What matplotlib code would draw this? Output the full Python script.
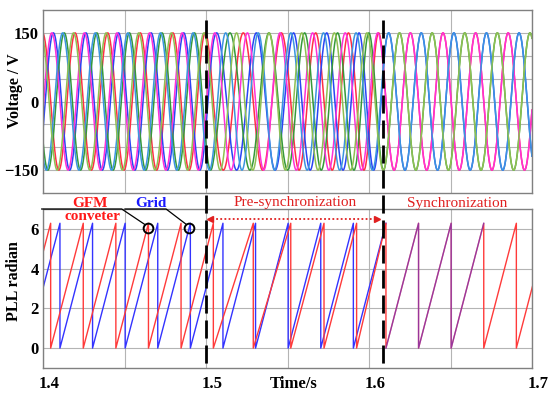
import numpy as np
import matplotlib
matplotlib.use('Agg')
import matplotlib.pyplot as plt
from matplotlib.transforms import blended_transform_factory, ScaledTranslation

plt.rcParams['font.family'] = ['Liberation Serif', 'DejaVu Serif']

# ---------------- data ----------------
# times at which each PLL phase wraps from 2*pi back to 0
conv_wraps = [1.3847, 1.4047, 1.4247, 1.4447, 1.4647, 1.4847, 1.5045, 1.5290,
              1.5520, 1.5724, 1.5924, 1.6104, 1.6304, 1.6504, 1.6704, 1.6904, 1.7104]
grid_wraps = [1.3904, 1.4104, 1.4304, 1.4504, 1.4704, 1.4904, 1.5104, 1.5304,
              1.5504, 1.5704, 1.5904, 1.6104, 1.6304, 1.6504, 1.6704, 1.6904, 1.7104]
grid_pll_end = 1.6704
amplitude = 150.0
volt_ticks = [-150, -100, -50, 0, 50, 100, 150]
volt_ticklabels = ['\u2212150', '', '', '0', '', '', '150']
pll_ticks = [0, 2, 4, 6]
time_ticks = [1.4, 1.45, 1.5, 1.55, 1.6, 1.65, 1.7]
time_ticklabels = ['1.4', '', '1.5', '', '1.6', '', '1.7']
event_times = [1.5, 1.6088]

conv_colors = ['#ff2f45', '#2a44f5', '#36993a']
grid_colors = ['#ff30d8', '#3b95df', '#8fc052']
pll_red = '#ff3a3a'
pll_blue = '#3333ff'


def phase(tt, wraps):
    k = np.arange(len(wraps))
    return np.interp(tt, wraps, 2 * np.pi * k)


def sawtooth(wraps):
    xs, ys = [], []
    for a, b in zip(wraps[:-1], wraps[1:]):
        xs += [a, b]
        ys += [0.0, 2 * np.pi]
    return np.array(xs), np.array(ys)


t = np.linspace(1.4, 1.7, 5000)
th_c = phase(t, conv_wraps)
th_g = phase(t, grid_wraps)

fig = plt.figure(figsize=(5.5, 3.98), dpi=100)
L, R = 43 / 550, 532 / 550
ax1 = fig.add_axes([L, 1 - 193 / 398, R - L, (193 - 10) / 398])
ax2 = fig.add_axes([L, 1 - 368 / 398, R - L, (368 - 209) / 398])

frame_c = '#808080'
grid_c = '#b4b4b4'
for ax in (ax1, ax2):
    for s in ax.spines.values():
        s.set_color(frame_c)
        s.set_linewidth(1.0)
    ax.grid(True, color=grid_c, lw=0.8)
    ax.set_axisbelow(True)
    ax.set_xlim(1.4, 1.7)
    ax.set_xticks(time_ticks)
    ax.tick_params(length=0, labelsize=12, pad=3)

# ---------------- voltage panel ----------------
for i in range(3):
    ax1.plot(t, amplitude * np.sin(th_c - np.pi - i * 2 * np.pi / 3),
             color=conv_colors[i], lw=1.1)
for i in range(3):
    ax1.plot(t, amplitude * np.sin(th_g - np.pi - i * 2 * np.pi / 3),
             color=grid_colors[i], lw=1.1)
ax1.set_ylim(-200, 200)
ax1.set_yticks(volt_ticks)
ax1.set_yticklabels(volt_ticklabels, fontweight='bold', fontsize=12)
ax1.set_xticklabels([])
ax1.set_ylabel('Voltage / V', fontweight='bold', fontsize=11.5)
ax1.yaxis.set_label_coords(-0.041, 0.557)

# ---------------- PLL panel ----------------
gx, gy = sawtooth(grid_wraps[:12])
ax2.plot(gx, gy, color=pll_blue, lw=1.0)
cx, cy = sawtooth(conv_wraps)
ax2.plot(cx, cy, color=pll_red, lw=1.0)
sync_w = [w for w in grid_wraps if 1.6104 <= w <= grid_pll_end]
sx, sy = sawtooth(sync_w)
ax2.plot(sx, sy, color=pll_blue, lw=1.0, alpha=0.5)

ax2.set_ylim(-1, 7)
ax2.set_yticks(pll_ticks)
ax2.set_yticklabels([str(v) for v in pll_ticks], fontweight='bold', fontsize=12)
ax2.set_xticklabels(time_ticklabels, fontweight='bold', fontsize=12)
ax2.tick_params(axis='x', pad=6)
off = ScaledTranslation(6 / 100, 0, fig.dpi_scale_trans)
for lab in ax2.get_xticklabels():
    lab.set_transform(lab.get_transform() + off)
ax2.set_ylabel('PLL radian', fontweight='bold', fontsize=11.5)
ax2.yaxis.set_label_coords(-0.042, 0.547)
ax2.text(1.5535, -8.3 / 159, 'Time/s',
         transform=blended_transform_factory(ax2.transData, ax2.transAxes),
         ha='center', va='top', fontweight='bold', fontsize=12)

# event dashed lines crossing both panels
bt = blended_transform_factory(ax2.transData, fig.transFigure)
for et in event_times:
    ax2.plot([et, et], [1 - 20 / 398, 1 - 367 / 398], transform=bt, clip_on=False,
             color='black', lw=2.0, dashes=(6.5, 2.5), zorder=10)

# annotations
ax2.text(1.4288, 7.3, 'GFM', color='#ff1a1a', fontweight='bold', fontsize=11,
         ha='center', va='center', clip_on=False)
ax2.text(1.4301, 6.6, 'conveter', color='#ff1a1a', fontweight='bold', fontsize=11,
         ha='center', va='center', clip_on=False)
ax2.text(1.4663, 7.3, 'Grid', color='#1a1aff', fontweight='bold', fontsize=11,
         ha='center', va='center', clip_on=False)
ax2.plot([1.3992, 1.4483, 1.4625], [7.0, 7.0, 6.22], color='black', lw=0.9, clip_on=False, zorder=11)
ax2.plot([1.4503, 1.4755, 1.4880], [7.0, 7.0, 6.22], color='black', lw=0.9, clip_on=False, zorder=11)
ax2.plot([1.4642, 1.4898], [6.03, 6.03], ls='none', marker='o', ms=7, mfc='none',
         mec='black', mew=1.4, zorder=11)
ax2.text(1.5546, 7.35, 'Pre-synchronization', color='#e02020', fontsize=11,
         ha='center', va='center', clip_on=False)
ax2.text(1.654, 7.3, 'Synchronization', color='#e02020', fontsize=11,
         ha='center', va='center', clip_on=False)
ax2.plot([1.5035, 1.6035], [6.5, 6.5], color='#e02020', lw=1.3, ls=(0, (1, 1.3)), zorder=11)
ax2.plot([1.5022], [6.5], marker='<', color='#e02020', ms=5, zorder=11)
ax2.plot([1.6050], [6.5], marker='>', color='#e02020', ms=5, zorder=11)

fig.savefig('out.png', dpi=100)
